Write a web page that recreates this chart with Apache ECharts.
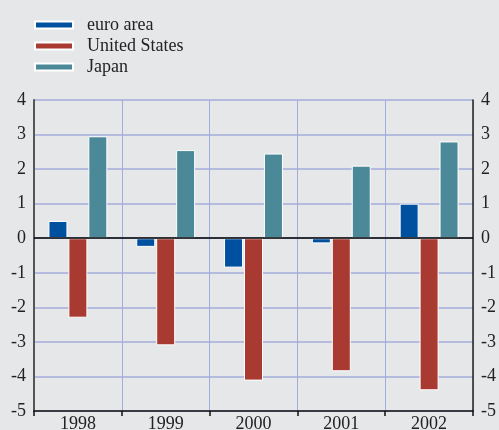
<!DOCTYPE html>
<html>
<head>
<meta charset="utf-8">
<script src="https://cdn.jsdelivr.net/npm/echarts@6/dist/echarts.min.js"></script>
<style>
  html, body { margin: 0; padding: 0; background: #e6e7e9; }
  #main { width: 499px; height: 430px; }
</style>
</head>
<body>
<div id="main"></div>
<script>
var years = ['1998', '1999', '2000', '2001', '2002'];
var euroArea = [0.5, -0.25, -0.85, -0.15, 1.0];
var unitedStates = [-2.3, -3.1, -4.12, -3.85, -4.4];
var japan = [2.95, 2.55, 2.45, 2.1, 2.8];
var yTicks = [-5, 4];

var chartDom = document.getElementById('main');
var myChart = echarts.init(chartDom);
var font = '"Liberation Serif", "DejaVu Serif", serif';
var gridColor = '#a3addb';

var barStyle = function (c) {
    return { color: c, borderColor: '#ffffff', borderWidth: 1 };
};

var option = {
    backgroundColor: '#e6e7e9',
    animation: false,
    legend: {
        orient: 'vertical',
        left: 29,
        top: 11,
        itemWidth: 38,
        itemHeight: 7,
        itemGap: 3,
        icon: 'rect',
        textStyle: {
            fontFamily: font,
            fontSize: 18,
            color: '#222',
            padding: [0, 0, 0, 9]
        },
        data: ['euro area', 'United States', 'Japan']
    },
    grid: { left: 34, right: 26, top: 100, bottom: 19, outerBoundsMode: 'none' },
    xAxis: {
        type: 'category',
        data: years,
        boundaryGap: true,
        axisLine: { onZero: false, lineStyle: { color: '#111', width: 1.5 } },
        axisTick: { show: true, length: 5, lineStyle: { color: '#111', width: 1.5 } },
        axisLabel: { fontFamily: font, fontSize: 18, color: '#222', margin: 4 },
        splitLine: { show: true, lineStyle: { color: gridColor, width: 1 } }
    },
    yAxis: [{
        type: 'value',
        min: yTicks[0],
        max: yTicks[1],
        interval: 1,
        position: 'left',
        axisLine: { show: true, lineStyle: { color: '#555', width: 2 } },
        axisTick: { show: false },
        axisLabel: { fontFamily: font, fontSize: 18, color: '#222', margin: 8 },
        splitLine: { show: true, lineStyle: { color: gridColor, width: 1.5 } }
    }, {
        type: 'value',
        min: yTicks[0],
        max: yTicks[1],
        interval: 1,
        position: 'right',
        axisLine: { show: true, lineStyle: { color: '#222', width: 1.5 } },
        axisTick: { show: false },
        axisLabel: { fontFamily: font, fontSize: 18, color: '#222', margin: 8 },
        splitLine: { show: false }
    }],
    series: [{
        name: 'euro area',
        type: 'bar',
        data: euroArea,
        barWidth: 19,
        barGap: '5%',
        itemStyle: barStyle('#0050a0'),
        markLine: {
            silent: true,
            symbol: 'none',
            label: { show: false },
            lineStyle: { color: '#000', width: 1.5, type: 'solid' },
            data: [{ yAxis: 0 }]
        }
    }, {
        name: 'United States',
        type: 'bar',
        data: unitedStates,
        barWidth: 19,
        barGap: '5%',
        itemStyle: barStyle('#a83a32')
    }, {
        name: 'Japan',
        type: 'bar',
        data: japan,
        barWidth: 19,
        barGap: '5%',
        itemStyle: barStyle('#4b8898')
    }]
};

myChart.setOption(option);
</script>
</body>
</html>
